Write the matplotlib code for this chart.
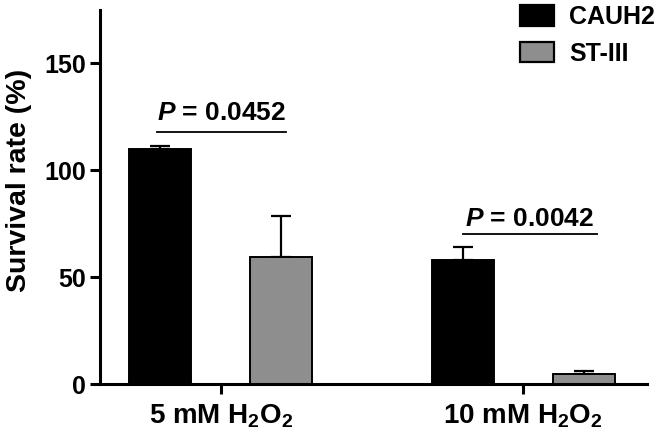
import numpy as np
import matplotlib
matplotlib.use("Agg")
import matplotlib.pyplot as plt
from matplotlib.patches import Patch

plt.rcParams["font.family"] = ["Liberation Sans", "DejaVu Sans"]
plt.rcParams["font.weight"] = "bold"
plt.rcParams["mathtext.fontset"] = "custom"
plt.rcParams["mathtext.rm"] = "Liberation Sans:bold"
plt.rcParams["mathtext.it"] = "Liberation Sans:italic:bold"
plt.rcParams["mathtext.bf"] = "Liberation Sans:bold"

groups = [r"5 mM H$_2$O$_2$", r"10 mM H$_2$O$_2$"]
series = ["CAUH2", "ST-III"]
means = {"CAUH2": [110, 58], "ST-III": [59.5, 4.7]}
errs = {"CAUH2": [1.3, 6], "ST-III": [19, 1.3]}
colors = {"CAUH2": "#000000", "ST-III": "#8e8e8e"}
p_labels = ["0.0452", "0.0042"]
p_heights = [118, 70]
p_gaps = [5.5, 4]

fig = plt.figure(figsize=(6.61, 4.34), dpi=100)
ax = fig.add_axes([0.151, 0.115, 0.828, 0.862])

x = np.arange(len(groups))
width = 0.205
offsets = [-0.2, 0.2]

for s, off in zip(series, offsets):
    ax.bar(x + off, means[s], width, color=colors[s], edgecolor="black",
           linewidth=1.4, zorder=2)
    ax.errorbar(x + off, means[s], yerr=[np.zeros(len(groups)), errs[s]],
                fmt="none", ecolor="black", elinewidth=1.6, capsize=7,
                capthick=1.6, zorder=1)

# significance brackets
for i, (lab, h, g) in enumerate(zip(p_labels, p_heights, p_gaps)):
    if i == 0:
        x0, x1 = x[i] - 0.21, x[i] + 0.215
    else:
        x0, x1 = x[i] - 0.2, x[i] + 0.245
    ax.plot([x0, x1], [h, h], color="black", linewidth=1.3)
    ax.text((x0 + x1) / 2, h + g, r"$\mathit{P}$ = " + lab, ha="center",
            va="baseline", fontsize=19, fontweight="bold")

ax.set_xlim(-0.40, 1.41)
ax.set_ylim(0, 175)
ax.set_yticks([0, 50, 100, 150])
ax.set_xticks(x)
ax.set_xticklabels(groups, fontsize=20, fontweight="bold")
ax.tick_params(axis="y", labelsize=18, width=2.2, length=7, pad=3)
ax.tick_params(axis="x", width=2.2, length=7, pad=6)
for lbl in ax.get_yticklabels():
    lbl.set_fontweight("bold")
ax.set_ylabel("Survival rate (%)", fontsize=20.5, fontweight="bold")
ax.yaxis.set_label_coords(-0.124, 0.545)

for side in ["top", "right"]:
    ax.spines[side].set_visible(False)
for side in ["left", "bottom"]:
    ax.spines[side].set_linewidth(2.2)

handles = [Patch(facecolor=colors[s], edgecolor="black", linewidth=1.6, label=s)
           for s in series]
fig.legend(handles=handles, loc="upper right", bbox_to_anchor=(1.025, 1.04),
           frameon=False, prop={"size": 18, "weight": "bold"},
           handlelength=1.35, handleheight=0.9, labelspacing=0.5,
           handletextpad=0.6)

fig.savefig("out.png", dpi=100)
